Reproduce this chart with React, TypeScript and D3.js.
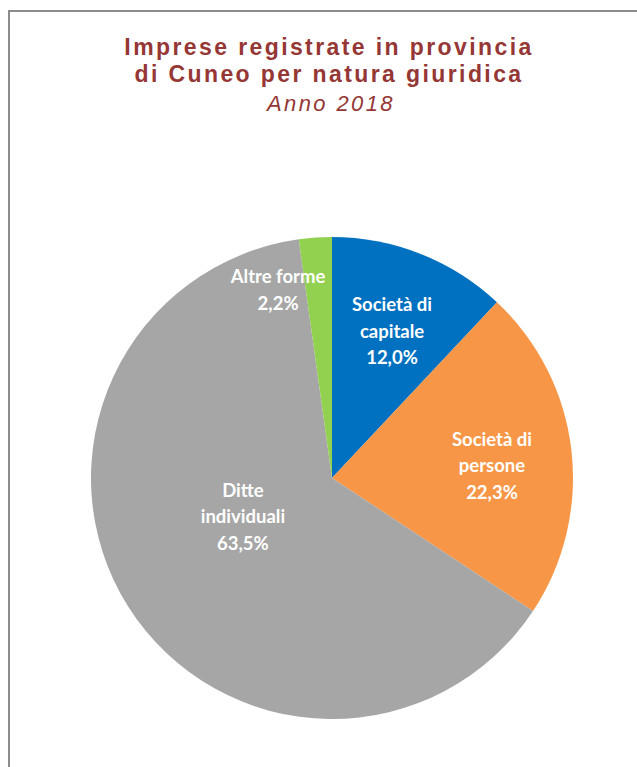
import React from "react";
import * as d3 from "d3";

const categories = ["Società di capitale", "Società di persone", "Ditte individuali", "Altre forme"];
const labelLines = [["Società di", "capitale"], ["Società di", "persone"], ["Ditte", "individuali"], ["Altre forme"]];
const values = [12.0, 22.3, 63.5, 2.2];
const colors = ["#0070C0", "#F79646", "#A6A6A6", "#92D050"];
const titleLines = ["Imprese registrate in provincia", "di Cuneo per natura giuridica"];
const subtitle = "Anno 2018";

// label placement (polar: radius factor, angle offset in degrees)
const labelPlacement: [number, number][] = [
  [0.659, 0.6],
  [0.666, 2.1],
  [0.402, 9.1],
  [0.814, -12],
];

const W = 637;
const H = 767;
const cx = 332;
const cy = 478;
const R = 241;

export default function App() {
  const pie = d3.pie<number>().sort(null).value((d) => d);
  const arcs = pie(values);
  const arc = d3.arc<d3.PieArcDatum<number>>().innerRadius(0).outerRadius(R);
  const fmt = (v: number) => v.toFixed(1).replace(".", ",") + "%";

  return (
    <svg width={W} height={H} style={{ position: "absolute", left: 0, top: 0 }}>
      <rect x={0} y={0} width={W} height={H} fill="#fff" />
      <rect x={9} y={11} width={W + 20} height={H + 20} fill="none" stroke="#8c8c8c" strokeWidth={2} />
      <g fontFamily="'Liberation Sans', Arial, sans-serif" fill="#953735" textAnchor="middle">
        {titleLines.map((t, i) => (
          <text key={i} x={329} y={55 + i * 27} fontSize={23} fontWeight="bold" letterSpacing={2.4}>
            {t}
          </text>
        ))}
        <text x={331} y={111} fontSize={22} fontStyle="italic" letterSpacing={2.4}>
          {subtitle}
        </text>
      </g>
      <g transform={`translate(${cx},${cy})`}>
        {arcs.map((a, i) => (
          <path key={categories[i]} d={arc(a) as string} fill={colors[i]} />
        ))}
        {arcs.map((a, i) => {
          const [rf, off] = labelPlacement[i];
          const ang = (a.startAngle + a.endAngle) / 2 + (off * Math.PI) / 180;
          const x = Math.sin(ang) * R * rf;
          const y = -Math.cos(ang) * R * rf;
          const lines = [...labelLines[i], fmt(values[i])];
          const lh = 26.5;
          const y0 = y - ((lines.length - 1) * lh) / 2;
          return (
            <text key={i} x={x} y={y0} textAnchor="middle" fill="#fff" fontFamily="Lato, 'Open Sans', sans-serif" fontWeight="bold" fontSize={18.5} dominantBaseline="central">
              {lines.map((l, j) => (
                <tspan key={j} x={x} y={y0 + j * lh}>
                  {l}
                </tspan>
              ))}
            </text>
          );
        })}
      </g>
    </svg>
  );
}
